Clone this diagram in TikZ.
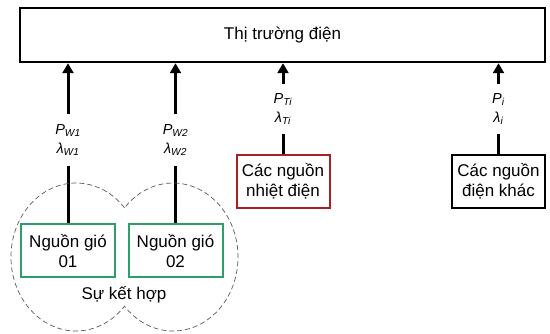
\documentclass[tikz,border=0pt]{standalone}
\usepackage{fontspec}
\setmainfont{Liberation Sans}
\usetikzlibrary{arrows.meta}

\definecolor{windgreen}{RGB}{46,158,104}
\definecolor{thermred}{RGB}{168,32,38}

\newcommand{\pvar}[1]{\textit{P}\textsubscript{\textit{#1}}\\\textit{λ}\textsubscript{\textit{#1}}}

\begin{document}
\begin{tikzpicture}[x=1pt, y=1pt, font=\fontsize{17}{20}\selectfont,
	srcbox/.style={draw, line width=2pt, minimum width=93pt, minimum height=53pt, align=center, inner sep=2pt},
	varlbl/.style={align=center, inner sep=0pt, minimum height=50pt, font=\fontsize{14.5}{19.5}\selectfont},
	flow/.style={line width=3pt},
	flowin/.style={line width=3pt, -{Triangle[width=11pt,length=10pt]}}]
	
	% ------------------------------------------------------------
	% Frame
	% ------------------------------------------------------------
	
	\useasboundingbox (0,0) rectangle (550,334);
	
	% ------------------------------------------------------------
	% Market
	% ------------------------------------------------------------
	
	\node[draw, line width=2.5pt, minimum width=525pt, minimum height=54pt] (market) at (282.5,299)
	{Thị trường điện};
	
	% ------------------------------------------------------------
	% Sources
	% ------------------------------------------------------------
	
	\node[srcbox, draw=windgreen, minimum width=94pt] (wind1) at (68,83)
	{Nguồn gió\\01};
	
	\node[srcbox, draw=windgreen, minimum width=94pt] (wind2) at (175.5,83)
	{Nguồn gió\\02};
	
	\node[srcbox, draw=thermred] (therm) at (283,152.5)
	{Các nguồn\\nhiệt điện};
	
	\node[srcbox, draw=black] (other) at (498.5,152.5)
	{Các nguồn\\điện khác};
	
	% ------------------------------------------------------------
	% Labels
	% ------------------------------------------------------------
	
	\node[varlbl, minimum height=52pt] (lw1) at (68,194) {\pvar{W1}};
	\node[varlbl, minimum height=52pt] (lw2) at (175.5,194) {\pvar{W2}};
	\node[varlbl] (lth) at (283,225) {\pvar{Ti}};
	\node[varlbl] (lot) at (498.5,225) {\pvar{i}};
	
	% ------------------------------------------------------------
	% Connections
	% ------------------------------------------------------------
	
	\draw[flow] (wind1.north) -- (lw1.south);
	\draw[flowin] (lw1.north) -- (lw1.north |- market.south);
	
	\draw[flow] (wind2.north) -- (lw2.south);
	\draw[flowin] (lw2.north) -- (lw2.north |- market.south);
	
	\draw[flow] (therm.north) -- (lth.south);
	\draw[flowin] (lth.north) -- (lth.north |- market.south);
	
	\draw[flow] (other.north) -- (lot.south);
	\draw[flowin] (lot.north) -- (lot.north |- market.south);
	
	% ------------------------------------------------------------
	% Combination
	% ------------------------------------------------------------
	
	\draw[black!65, line width=0.7pt, dash pattern=on 5pt off 3pt]
	(124.5,126.2) arc[start angle=41.7, end angle=318.3, x radius=65, y radius=74]
	arc[start angle=-138.3, end angle=138.3, x radius=65, y radius=74];
	
	\node (combo) at (124,39) {Sự kết hợp};
\end{tikzpicture}
\end{document}
